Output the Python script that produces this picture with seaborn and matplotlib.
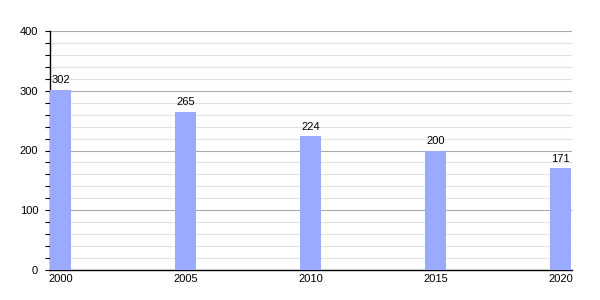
import matplotlib
matplotlib.use("Agg")
import matplotlib.pyplot as plt
import seaborn as sns
import pandas as pd
from matplotlib.ticker import MultipleLocator

years = [2000, 2005, 2010, 2015, 2020]
values = [302, 265, 224, 200, 171]

df = pd.DataFrame({"year": years, "value": values})

sns.set_style("white")
plt.rcParams["font.family"] = ["Liberation Sans", "DejaVu Sans"]
plt.rcParams["text.color"] = "black"
plt.rcParams["xtick.color"] = "black"
plt.rcParams["ytick.color"] = "black"

fig = plt.figure(figsize=(6, 3), dpi=100)
ax = fig.add_axes([50 / 600, 30 / 300, 522 / 600, 239 / 300])

sns.barplot(data=df, x="year", y="value", native_scale=True, width=0.168,
            color="#99aaff", saturation=1, ax=ax, zorder=3, linewidth=0)

ax.set_xlim(1999.58, 2020.46)
ax.set_ylim(0, 400)
ax.set_xticks(years)
ax.set_xticklabels([str(y) for y in years])
ax.yaxis.set_major_locator(MultipleLocator(100))
ax.yaxis.set_minor_locator(MultipleLocator(20))
ax.grid(axis="y", which="major", color="#aaaaaa", linewidth=0.8, zorder=0)
ax.grid(axis="y", which="minor", color="#e2e2e2", linewidth=0.8, zorder=0)
ax.set_axisbelow(True)

for s in ["top", "right"]:
    ax.spines[s].set_visible(False)
for s in ["left", "bottom"]:
    ax.spines[s].set_color("black")
    ax.spines[s].set_linewidth(1)

ax.tick_params(axis="y", which="major", left=True, length=3.5, width=0.8, labelsize=8, pad=5)
ax.tick_params(axis="y", which="minor", left=True, length=3.5, width=0.8)
ax.tick_params(axis="x", bottom=False, length=0, labelsize=8, pad=3)
ax.set_xlabel("")
ax.set_ylabel("")

for c in ax.containers:
    ax.bar_label(c, labels=[str(v) for v in values], fontsize=8, padding=3, color="black")

fig.savefig("out.png", dpi=100)
